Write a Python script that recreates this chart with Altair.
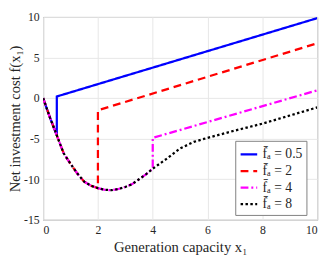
import altair as alt
import pandas as pd

# Shared descending branch
base_x = [0, 0.25, 0.5, 0.75, 1.0, 1.25, 1.5, 1.75, 2.0, 2.25, 2.5, 2.75, 3.0, 3.25, 3.5, 3.75, 4.0]
base_y = [0, -2.4, -4.6, -6.8, -8.1, -9.3, -10.3, -10.8, -11.1, -11.3, -11.35, -11.2, -10.95, -10.6, -10.0, -9.4, -8.7]

labels = ["f\u0304\u2090 = 0.5", "f\u0304\u2090 = 2", "f\u0304\u2090 = 4", "f\u0304\u2090 = 8"]
cut_x = [0.5, 2.0, 4.0, 4.0]

# Tails after the jump for each series
tail_x_05 = [0.5, 10]
tail_y_05 = [0.2, 9.85]
tail_x_2 = [2.0, 10]
tail_y_2 = [-1.5, 6.75]
tail_x_4 = [4.0, 10]
tail_y_4 = [-4.9, 0.95]
tail_x_8 = [4.5, 5.0, 5.5, 6.0, 7.0, 8.0, 9.0, 10.0]
tail_y_8 = [-7.5, -6.2, -5.4, -4.9, -4.0, -3.15, -2.15, -1.15]

tails = [(tail_x_05, tail_y_05), (tail_x_2, tail_y_2), (tail_x_4, tail_y_4), (tail_x_8, tail_y_8)]

colors = ["#0000ff", "#ff0000", "#ff00ff", "#000000"]
dashes = [[1, 0], [8, 5], [8, 3, 2, 3], [2.5, 2.5]]
widths = [2.3, 2.3, 2.3, 2.7]

rows = []
for i, (lab, cx, (tx, ty)) in enumerate(zip(labels, cut_x, tails)):
    k = 0
    for x, y in zip(base_x, base_y):
        if x <= cx + 1e-9:
            rows.append({"x": x, "y": y, "s": lab, "o": k, "z": i})
            k += 1
    for x, y in zip(tx, ty):
        rows.append({"x": x, "y": y, "s": lab, "o": k, "z": i})
        k += 1
df = pd.DataFrame(rows)

font = "Liberation Serif"

leg = dict(title=None, orient="none", legendX=197, legendY=127,
           symbolType="stroke", symbolSize=289, symbolStrokeWidth=2.5,
           fillColor="white", strokeColor="#7f7f7f", padding=4,
           rowPadding=0, labelOffset=4, labelFont=font,
           labelFontSize=14, labelColor="#262626")

chart = alt.Chart(df).mark_line(strokeCap="butt", strokeJoin="miter", clip=True).encode(
    x=alt.X("x:Q", scale=alt.Scale(domain=[0, 10], nice=False),
            axis=alt.Axis(values=[0, 2, 4, 6, 8, 10], title="Generation capacity x\u2081",
                          labelExpr="'' + datum.value", titlePadding=4, labelPadding=5)),
    y=alt.Y("y:Q", scale=alt.Scale(domain=[-15, 10], nice=False),
            axis=alt.Axis(values=[-15, -10, -5, 0, 5, 10], title="Net investment cost f(x\u2081)",
                          labelExpr="'' + datum.value", titlePadding=1, labelPadding=4)),
    color=alt.Color("s:N", scale=alt.Scale(domain=labels, range=colors),
                    sort=labels, legend=alt.Legend(**leg)),
    strokeDash=alt.StrokeDash("s:N", scale=alt.Scale(domain=labels, range=dashes), sort=labels,
                              legend=alt.Legend(**leg)),
    strokeWidth=alt.StrokeWidth("s:N", scale=alt.Scale(domain=labels, range=widths), legend=None),
    order="o:Q",
    detail="s:N",
).properties(
    width=281, height=208,
    autosize=alt.AutoSizeParams(type="none"),
    padding={"left": 36, "top": 6, "right": 7, "bottom": 37},
).configure_view(
    stroke="#777777", strokeWidth=1
).configure_axis(
    domain=False, ticks=False, grid=True, gridColor="#e6e6e6", gridWidth=1,
    labelFont=font, labelFontSize=12, labelColor="#262626",
    titleFont=font, titleFontSize=15, titleFontWeight="normal", titleColor="#262626",
)

chart.save("out.html", embed_options={"renderer": "svg", "actions": False})
